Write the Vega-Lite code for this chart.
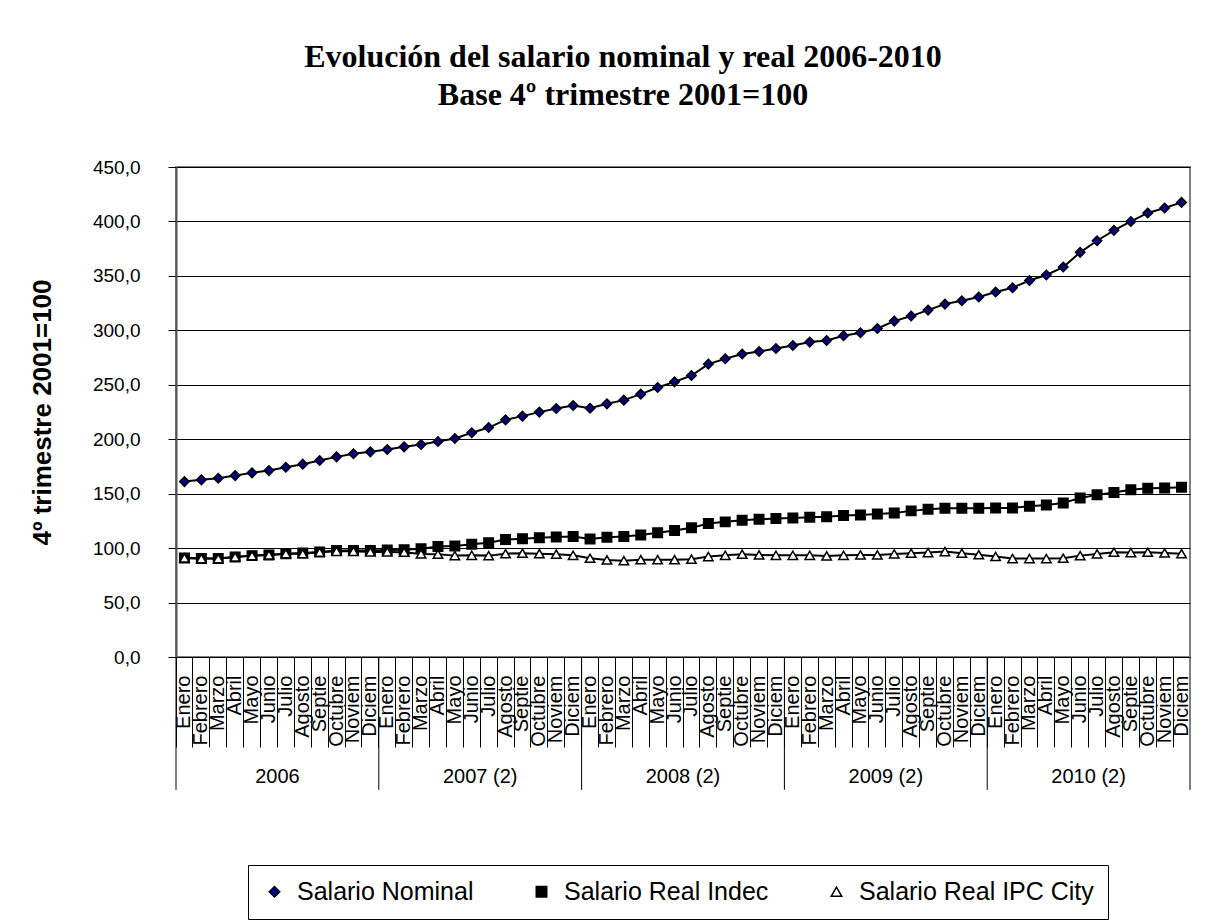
{
  "$schema": "https://vega.github.io/schema/vega-lite/v6.json",
  "width": 1014,
  "height": 490,
  "autosize": {"type": "none"},
  "padding": {"left": 176, "top": 167, "right": 36, "bottom": 265},
  "background": "white",
  "config": {
    "view": {"stroke": "#808080", "strokeWidth": 2},
    "font": "Liberation Sans"
  },
  "title": {
    "text": ["Evolución del salario nominal y real 2006-2010", "Base 4º trimestre 2001=100"],
    "font": "Liberation Serif",
    "fontSize": 32,
    "fontWeight": "bold",
    "color": "black",
    "lineHeight": 38,
    "anchor": "middle",
    "frame": "group",
    "dx": -60,
    "offset": 46
  },
  "layer": [
    {
      "data": {
        "values": [
          {"fecha": "2006-01", "Salario Nominal": 161.1, "Salario Real Indec": 91.0, "Salario Real IPC City": 91.0},
          {"fecha": "2006-02", "Salario Nominal": 162.7, "Salario Real Indec": 90.4, "Salario Real IPC City": 90.4},
          {"fecha": "2006-03", "Salario Nominal": 164.2, "Salario Real Indec": 90.4, "Salario Real IPC City": 90.4},
          {"fecha": "2006-04", "Salario Nominal": 166.6, "Salario Real Indec": 91.9, "Salario Real IPC City": 91.9},
          {"fecha": "2006-05", "Salario Nominal": 169.1, "Salario Real Indec": 93.1, "Salario Real IPC City": 93.1},
          {"fecha": "2006-06", "Salario Nominal": 171.2, "Salario Real Indec": 93.7, "Salario Real IPC City": 93.7},
          {"fecha": "2006-07", "Salario Nominal": 174.3, "Salario Real Indec": 94.9, "Salario Real IPC City": 94.9},
          {"fecha": "2006-08", "Salario Nominal": 177.1, "Salario Real Indec": 95.6, "Salario Real IPC City": 94.9},
          {"fecha": "2006-09", "Salario Nominal": 180.4, "Salario Real Indec": 96.5, "Salario Real IPC City": 96.2},
          {"fecha": "2006-10", "Salario Nominal": 183.8, "Salario Real Indec": 97.7, "Salario Real IPC City": 97.1},
          {"fecha": "2006-11", "Salario Nominal": 186.6, "Salario Real Indec": 97.7, "Salario Real IPC City": 97.1},
          {"fecha": "2006-12", "Salario Nominal": 188.4, "Salario Real Indec": 97.7, "Salario Real IPC City": 96.5},
          {"fecha": "2007-01", "Salario Nominal": 190.5, "Salario Real Indec": 98.3, "Salario Real IPC City": 96.5},
          {"fecha": "2007-02", "Salario Nominal": 193.0, "Salario Real Indec": 98.6, "Salario Real IPC City": 96.2},
          {"fecha": "2007-03", "Salario Nominal": 195.1, "Salario Real Indec": 99.5, "Salario Real IPC City": 94.7},
          {"fecha": "2007-04", "Salario Nominal": 197.9, "Salario Real Indec": 101.4, "Salario Real IPC City": 94.4},
          {"fecha": "2007-05", "Salario Nominal": 200.6, "Salario Real Indec": 102.0, "Salario Real IPC City": 93.1},
          {"fecha": "2007-06", "Salario Nominal": 205.9, "Salario Real Indec": 103.6, "Salario Real IPC City": 93.4},
          {"fecha": "2007-07", "Salario Nominal": 210.7, "Salario Real Indec": 105.0, "Salario Real IPC City": 93.1},
          {"fecha": "2007-08", "Salario Nominal": 217.8, "Salario Real Indec": 107.8, "Salario Real IPC City": 94.9},
          {"fecha": "2007-09", "Salario Nominal": 221.2, "Salario Real Indec": 108.7, "Salario Real IPC City": 95.3},
          {"fecha": "2007-10", "Salario Nominal": 224.9, "Salario Real Indec": 109.6, "Salario Real IPC City": 94.9},
          {"fecha": "2007-11", "Salario Nominal": 228.2, "Salario Real Indec": 110.3, "Salario Real IPC City": 94.4},
          {"fecha": "2007-12", "Salario Nominal": 231.0, "Salario Real Indec": 110.6, "Salario Real IPC City": 93.4},
          {"fecha": "2008-01", "Salario Nominal": 228.5, "Salario Real Indec": 108.4, "Salario Real IPC City": 90.7},
          {"fecha": "2008-02", "Salario Nominal": 232.5, "Salario Real Indec": 110.0, "Salario Real IPC City": 89.1},
          {"fecha": "2008-03", "Salario Nominal": 235.9, "Salario Real Indec": 110.6, "Salario Real IPC City": 88.5},
          {"fecha": "2008-04", "Salario Nominal": 241.4, "Salario Real Indec": 112.1, "Salario Real IPC City": 89.4},
          {"fecha": "2008-05", "Salario Nominal": 247.5, "Salario Real Indec": 114.2, "Salario Real IPC City": 89.4},
          {"fecha": "2008-06", "Salario Nominal": 252.7, "Salario Real Indec": 116.1, "Salario Real IPC City": 89.4},
          {"fecha": "2008-07", "Salario Nominal": 258.5, "Salario Real Indec": 118.6, "Salario Real IPC City": 89.8},
          {"fecha": "2008-08", "Salario Nominal": 269.0, "Salario Real Indec": 122.5, "Salario Real IPC City": 92.2},
          {"fecha": "2008-09", "Salario Nominal": 273.9, "Salario Real Indec": 124.1, "Salario Real IPC City": 93.4},
          {"fecha": "2008-10", "Salario Nominal": 278.2, "Salario Real Indec": 125.6, "Salario Real IPC City": 94.4},
          {"fecha": "2008-11", "Salario Nominal": 280.6, "Salario Real Indec": 126.5, "Salario Real IPC City": 93.7},
          {"fecha": "2008-12", "Salario Nominal": 283.3, "Salario Real Indec": 127.1, "Salario Real IPC City": 93.4},
          {"fecha": "2009-01", "Salario Nominal": 286.1, "Salario Real Indec": 127.7, "Salario Real IPC City": 93.4},
          {"fecha": "2009-02", "Salario Nominal": 289.2, "Salario Real Indec": 128.4, "Salario Real IPC City": 93.4},
          {"fecha": "2009-03", "Salario Nominal": 290.7, "Salario Real Indec": 128.7, "Salario Real IPC City": 92.8},
          {"fecha": "2009-04", "Salario Nominal": 295.0, "Salario Real Indec": 129.9, "Salario Real IPC City": 93.4},
          {"fecha": "2009-05", "Salario Nominal": 297.8, "Salario Real Indec": 130.5, "Salario Real IPC City": 93.7},
          {"fecha": "2009-06", "Salario Nominal": 301.7, "Salario Real Indec": 131.4, "Salario Real IPC City": 93.7},
          {"fecha": "2009-07", "Salario Nominal": 308.5, "Salario Real Indec": 132.3, "Salario Real IPC City": 94.7},
          {"fecha": "2009-08", "Salario Nominal": 313.1, "Salario Real Indec": 134.2, "Salario Real IPC City": 95.3},
          {"fecha": "2009-09", "Salario Nominal": 318.6, "Salario Real Indec": 135.7, "Salario Real IPC City": 95.9},
          {"fecha": "2009-10", "Salario Nominal": 324.1, "Salario Real Indec": 136.6, "Salario Real IPC City": 96.8},
          {"fecha": "2009-11", "Salario Nominal": 327.2, "Salario Real Indec": 136.6, "Salario Real IPC City": 95.3},
          {"fecha": "2009-12", "Salario Nominal": 330.6, "Salario Real Indec": 136.6, "Salario Real IPC City": 94.0},
          {"fecha": "2010-01", "Salario Nominal": 335.2, "Salario Real Indec": 136.9, "Salario Real IPC City": 92.3},
          {"fecha": "2010-02", "Salario Nominal": 339.1, "Salario Real Indec": 136.9, "Salario Real IPC City": 90.4},
          {"fecha": "2010-03", "Salario Nominal": 345.8, "Salario Real Indec": 138.5, "Salario Real IPC City": 90.4},
          {"fecha": "2010-04", "Salario Nominal": 350.8, "Salario Real Indec": 139.7, "Salario Real IPC City": 90.4},
          {"fecha": "2010-05", "Salario Nominal": 358.1, "Salario Real Indec": 141.5, "Salario Real IPC City": 90.7},
          {"fecha": "2010-06", "Salario Nominal": 371.6, "Salario Real Indec": 146.1, "Salario Real IPC City": 93.1},
          {"fecha": "2010-07", "Salario Nominal": 382.3, "Salario Real Indec": 148.9, "Salario Real IPC City": 94.7},
          {"fecha": "2010-08", "Salario Nominal": 391.8, "Salario Real Indec": 151.0, "Salario Real IPC City": 96.2},
          {"fecha": "2010-09", "Salario Nominal": 400.0, "Salario Real Indec": 153.5, "Salario Real IPC City": 95.9},
          {"fecha": "2010-10", "Salario Nominal": 407.8, "Salario Real Indec": 155.0, "Salario Real IPC City": 96.2},
          {"fecha": "2010-11", "Salario Nominal": 412.4, "Salario Real Indec": 155.3, "Salario Real IPC City": 95.6},
          {"fecha": "2010-12", "Salario Nominal": 417.5, "Salario Real Indec": 155.9, "Salario Real IPC City": 94.9}
        ]
      },
      "transform": [
        {"fold": ["Salario Nominal", "Salario Real Indec", "Salario Real IPC City"], "as": ["serie", "valor"]}
      ],
      "encoding": {
        "x": {
          "field": "fecha",
          "type": "ordinal",
          "scale": {"type": "band", "paddingInner": 0, "paddingOuter": 0},
          "axis": {
            "title": null,
            "orient": "bottom",
            "labelAngle": -90,
            "labelAlign": "right",
            "labelBaseline": "middle",
            "labelExpr": "['Enero','Febrero','Marzo','Abril','Mayo','Junio','Julio','Agosto','Septie','Octubre','Noviem','Diciem'][toNumber(slice(datum.value, 5)) - 1]",
            "labelFont": "Liberation Sans",
            "labelFontSize": 20,
            "labelColor": "black",
            "labelPadding": -72,
            "labelOverlap": false,
            "tickSize": 90,
            "tickColor": "black",
            "tickWidth": 1,
            "bandPosition": 0,
            "domainColor": "black",
            "domainWidth": 1,
            "grid": false
          }
        },
        "y": {
          "field": "valor",
          "type": "quantitative",
          "scale": {"domain": [0, 450], "nice": false},
          "axis": {
            "title": "4º trimestre 2001=100",
            "titleFont": "Liberation Sans",
            "titleFontSize": 26,
            "titleFontWeight": "bold",
            "titleColor": "black",
            "titlePadding": 37,
            "values": [0, 50, 100, 150, 200, 250, 300, 350, 400, 450],
            "labelExpr": "replace(format(datum.value, '.1f'), '.', ',')",
            "labelFont": "Liberation Sans",
            "labelFontSize": 19,
            "labelColor": "black",
            "labelPadding": 28,
            "tickSize": 8,
            "tickColor": "black",
            "domainColor": "#555555",
            "domainWidth": 2,
            "grid": true,
            "gridColor": "black",
            "gridWidth": 1
          }
        }
      },
      "layer": [
        {
          "mark": {"type": "line", "color": "black", "strokeWidth": 2},
          "encoding": {
            "detail": {"field": "serie", "type": "nominal"}
          }
        },
        {
          "mark": {"type": "point", "filled": true, "strokeWidth": 1.5, "opacity": 1, "size": 90},
          "encoding": {
            "shape": {
              "field": "serie",
              "type": "nominal",
              "scale": {
                "domain": ["Salario Nominal", "Salario Real Indec", "Salario Real IPC City"],
                "range": ["diamond", "square", "triangle-up"]
              },
              "legend": {
                "title": null,
                "orient": "none",
                "legendX": 72,
                "legendY": 698,
                "direction": "horizontal",
                "strokeColor": "black",
                "padding": 14,
                "columnPadding": 55,
                "labelFont": "Liberation Sans",
                "labelFontSize": 25,
                "labelColor": "black",
                "labelLimit": 1000,
                "labelOffset": 10,
                "symbolSize": 110,
                "symbolStrokeWidth": 1.5
              }
            },
            "fill": {
              "field": "serie",
              "type": "nominal",
              "scale": {
                "domain": ["Salario Nominal", "Salario Real Indec", "Salario Real IPC City"],
                "range": ["#000080", "#000000", "#ffffff"]
              },
              "legend": {
                "title": null,
                "orient": "none",
                "legendX": 72,
                "legendY": 698,
                "direction": "horizontal"
              }
            },
            "stroke": {
              "field": "serie",
              "type": "nominal",
              "scale": {
                "domain": ["Salario Nominal", "Salario Real Indec", "Salario Real IPC City"],
                "range": ["#000000", "#000000", "#000000"]
              },
              "legend": {
                "title": null,
                "orient": "none",
                "legendX": 72,
                "legendY": 698,
                "direction": "horizontal"
              }
            }
          }
        }
      ]
    },
    {
      "data": {
        "values": [
          {"fecha": "2006-01"},
          {"fecha": "2007-01"},
          {"fecha": "2008-01"},
          {"fecha": "2009-01"},
          {"fecha": "2010-01"}
        ]
      },
      "mark": {"type": "rule", "color": "black", "strokeWidth": 1, "clip": false},
      "encoding": {
        "x": {"field": "fecha", "type": "ordinal", "bandPosition": 0},
        "y": {"datum": 0, "type": "quantitative"},
        "y2": {"datum": -122}
      }
    },
    {
      "data": {
        "values": [
          {"fecha": "2010-12"}
        ]
      },
      "mark": {"type": "rule", "color": "black", "strokeWidth": 1, "clip": false},
      "encoding": {
        "x": {"field": "fecha", "type": "ordinal", "bandPosition": 1},
        "y": {"datum": 0, "type": "quantitative"},
        "y2": {"datum": -122}
      }
    },
    {
      "data": {
        "values": [
          {"fecha": "2006-06", "anio": "2006"},
          {"fecha": "2007-06", "anio": "2007 (2)"},
          {"fecha": "2008-06", "anio": "2008 (2)"},
          {"fecha": "2009-06", "anio": "2009 (2)"},
          {"fecha": "2010-06", "anio": "2010 (2)"}
        ]
      },
      "mark": {"type": "text", "font": "Liberation Sans", "fontSize": 20, "color": "black", "align": "center", "baseline": "middle", "clip": false},
      "encoding": {
        "x": {"field": "fecha", "type": "ordinal", "bandPosition": 1},
        "y": {"datum": -110, "type": "quantitative"},
        "text": {"field": "anio", "type": "nominal"}
      }
    }
  ]
}
